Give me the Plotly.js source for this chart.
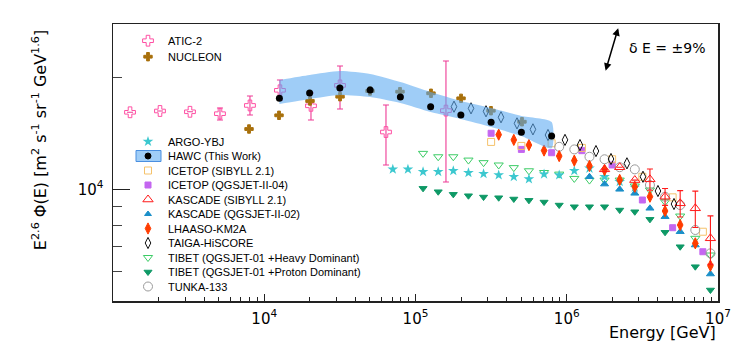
<!DOCTYPE html>
<html>
<head>
<meta charset="utf-8">
<script src="https://cdn.plot.ly/plotly-3.0.1.min.js"></script>
<style>
  html, body { margin: 0; padding: 0; background: #fff; }
  #chart { width: 756px; height: 347px; }
</style>
</head>
<body>
<div id="chart"></div>
<script>
// energies in GeV, flux values are E^2.6 * Phi(E)
const aticE = [1296, 2045, 3228, 5096, 8045, 12700, 20370, 31690, 63800, 159000];
const aticF = [16130, 16260, 16180, 15990, 16830, 18490, 16790, 19060, 14270, 16300];
const aticErrHi = [0, 0, 0, 570, 1010, 1220, 1390, 2430, 2610, 5870];
const aticErrLo = [0, 0, 0, 620, 970, 1090, 1420, 2600, 2640, 5840];

const nucleonE = [7930, 12520, 20070, 31700, 50030, 78980, 126600, 200000, 315500, 505800];
const nucleonF = [14540, 15830, 17300, 17770, 18410, 18330, 18150, 17590, 16290, 15210];

const hawcE = [12590, 19950, 31620, 50120, 79430, 125900, 199500, 316200, 501200, 794300];
const hawcF = [17590, 18180, 18750, 18520, 17730, 16700, 15860, 15160, 14240, 13920];
const hawcSysHi = [19710, 20330, 20840, 20460, 19460, 18290, 17300, 16560, 15760, 15180];
const hawcSysLo = [16980, 17520, 17960, 17730, 17080, 16150, 15470, 14720, 13920, 12900];

const argoE = [70790, 89130, 112200, 141300, 177800, 223900, 281800, 354800, 446700, 562300, 707900, 891300, 1122000, 1413000, 1778000, 2239000, 2818000];
const argoF = [11320, 11320, 11150, 11150, 11220, 11080, 11010, 10930, 10810, 10660, 10990, 10930, 11220, 11390, 10810, 10480, 10120];

const icetopE = [316200, 501200, 794300, 1259000, 1995000, 3162000, 5012000, 7943000];
const icetopSibF = [13420, 13090, 13310, 12930, 12050, 10810, 9515, 7686];
const icetopQgsF = [14160, 12810, 12550, 12710, 11630, 9358, 7880, 6788];

const kascadeE = [1413000, 1778000, 2239000, 2818000, 3548000, 4467000, 5623000, 7079000, 8913000];
const kascadeSibF = [null, 11320, 11470, 10590, 10640, 9552, 9169, 8888, 7378];
const kascadeSibErr = [0, 0, 0, 0, 700, 500, 750, 1000, 1100];
const kascadeQgsF = [10810, 10330, 10000, 9754, 8888, 8437, 7686, 7077, 5911];

const lhaasoE = [354800, 446700, 562300, 707900, 891300, 1122000, 1413000, 1778000, 2239000, 2818000, 3548000, 4467000, 5623000, 7079000, 8913000];
const lhaasoF = [14040, 13590, 13160, 12720, 12290, 11950, 11560, 11270, 10600, 10160, 9552, 8740, 8013, 7153, 6225];

const taigaE = [179700, 232800, 292500, 367600, 468800, 597700, 751500, 973600, 1223000, 1560000, 1961000, 2500000, 3191000, 4009000, 5117000];
const taigaF = [16700, 16530, 16230, 15640, 15060, 14510, 14010, 13590, 13160, 12680, 12070, 11750, 10810, 9895, 9129];

const tibetE = [112200, 141300, 177800, 223900, 281800, 354800, 446700, 562300, 707900, 891300, 1122000, 1413000, 1778000, 2239000, 2818000, 3548000, 4467000, 5623000, 7079000, 8913000];
const tibetHeavyF = [12500, 12240, 12240, 11990, 11800, 11630, 11440, 11220, 11100, 10990, 10700, 10590, 10590, 10590, 10210, 9956, 9260, 8472, 7378, 6651];
const tibetProtonF = [10060, 9852, 9694, 9610, 9532, 9492, 9416, 9340, 9240, 9070, 8975, 8975, 8975, 8793, 8700, 8300, 7659, 7003, 6186, 5353];

const tunkaE = [891300, 1122000, 1413000, 1778000, 2239000, 2818000, 3548000, 4467000, 5623000, 7079000, 8913000];
const tunkaF = [13020, 12810, 12240, 12050, 11470, 11320, 10270, 9552, 9070, 7769, 6721];

const xTickVals = [1e4, 1e5, 1e6, 1e7];
const xTickText = ["10<sup>4</sup>", "10<sup>5</sup>", "10<sup>6</sup>", "10<sup>7</sup>"];
const yTickVals = [1e4];
const yTickText = ["10<sup>4</sup>"];
const yMinorVals = [6000, 7000, 8000, 9000, 20000];

const legendTop = [
  { name: "ATIC-2", symbol: "cross-open", color: "#ff4fa3", size: 9 },
  { name: "NUCLEON", symbol: "cross", color: "#a8700c", size: 7 }
];
const legendMain = [
  { name: "ARGO-YBJ", symbol: "star", color: "#3cc8cf", size: 8 },
  { name: "HAWC (This Work)", symbol: "circle", color: "#000000", size: 6, band: true },
  { name: "ICETOP (SIBYLL 2.1)", symbol: "square-open", color: "#f5c26b", size: 7 },
  { name: "ICETOP (QGSJET-II-04)", symbol: "square", color: "#c466f0", size: 6 },
  { name: "KASCADE (SIBYLL 2.1)", symbol: "triangle-up-open", color: "#ff1a1a", size: 9 },
  { name: "KASCADE (QGSJET-II-02)", symbol: "triangle-up", color: "#1a8fc9", size: 6 },
  { name: "LHAASO-KM2A", symbol: "diamond-tall", color: "#ff3c00", size: 8 },
  { name: "TAIGA-HiSCORE", symbol: "diamond-tall-open", color: "#111111", size: 8 },
  { name: "TIBET (QGSJET-01 +Heavy Dominant)", symbol: "triangle-down-open", color: "#3ccc66", size: 8 },
  { name: "TIBET (QGSJET-01 +Proton Dominant)", symbol: "triangle-down", color: "#0e9966", size: 7 },
  { name: "TUNKA-133", symbol: "circle-open", color: "#9a9a9a", size: 9 }
];

function series(x, y, symbol, color, size, extra) {
  return Object.assign({
    x, y,
    type: "scatter",
    mode: "markers",
    marker: { symbol, color, size, line: { color, width: 1 } },
    hoverinfo: "skip",
    showlegend: false,
    cliponaxis: false
  }, extra || {});
}

const traces = [
  series(aticE, aticF, "cross-open", "#ff4fa3", 9, {
    error_y: { type: "data", array: aticErrHi, arrayminus: aticErrLo, color: "#ee3b96", thickness: 1.1, width: 3 }
  }),
  series(nucleonE, nucleonF, "cross", "#a8700c", 7),
  series(tibetE, tibetProtonF, "triangle-down", "#0e9966", 7),
  series(tibetE, tibetHeavyF, "triangle-down-open", "#3ccc66", 8),
  series(argoE, argoF, "star", "#3cc8cf", 8, { marker: { symbol: "star", color: "#3cc8cf", size: 8, line: { width: 0 } } }),
  series(kascadeE, kascadeQgsF, "triangle-up", "#1a8fc9", 7),
  series(icetopE, icetopQgsF, "square", "#c466f0", 6),
  series(icetopE, icetopSibF, "square-open", "#f5c26b", 7),
  series(tunkaE, tunkaF, "circle-open", "#9a9a9a", 9),
  series(lhaasoE, lhaasoF, "diamond-tall", "#ff3c00", 8, {
    error_y: { type: "percent", value: 3, color: "#ff3c00", thickness: 1, width: 0 }
  }),
  series(kascadeE, kascadeSibF, "triangle-up-open", "#ff1a1a", 9, {
    error_y: { type: "data", array: kascadeSibErr, color: "#ff1a1a", thickness: 1.1, width: 3 }
  }),
  series(taigaE, taigaF, "diamond-tall-open", "#111111", 8),
  {
    // HAWC systematic band
    x: hawcE.concat(hawcE.slice().reverse()),
    y: hawcSysHi.concat(hawcSysLo.slice().reverse()),
    type: "scatter",
    mode: "lines",
    fill: "toself",
    fillcolor: "rgba(90,168,242,0.58)",
    line: { width: 0, shape: "spline", smoothing: 0.6 },
    hoverinfo: "skip",
    showlegend: false
  },
  series(hawcE, hawcF, "circle", "#000000", 7, { marker: { symbol: "circle", color: "#000", size: 7, line: { width: 0 } } })
];

// legend drawn on an overlay axis measured in pixels from the plot's top-left
const annotations = [];
const shapes = [];
const legendMarkerX = 35;
const legendTextX = 53;

function addLegend(entries, top, step) {
  entries.forEach((entry, i) => {
    const y = top + i * step;
    if (entry.band) {
      shapes.push({
        type: "rect", xref: "x2", yref: "y2", layer: "below",
        x0: legendMarkerX - 12, x1: legendMarkerX + 13, y0: y - 5.5, y1: y + 5.5,
        fillcolor: "rgba(90,168,242,0.58)", line: { color: "#4a8fe0", width: 1 }
      });
    }
    traces.push({
      x: [legendMarkerX], y: [y],
      xaxis: "x2", yaxis: "y2",
      type: "scatter", mode: "markers",
      marker: {
        symbol: entry.symbol, color: entry.color, size: entry.size,
        line: { color: entry.color, width: entry.symbol === "star" ? 0 : 1 }
      },
      hoverinfo: "skip", showlegend: false
    });
    annotations.push({
      xref: "x2", yref: "y2", x: legendTextX, y,
      text: entry.name, showarrow: false,
      xanchor: "left", yanchor: "middle",
      font: { family: "Liberation Sans, Arial, sans-serif", size: 11, color: "#000" }
    });
  });
}

addLegend(legendTop, 16.7, 16);
addLegend(legendMain, 117.5, 14.5);

annotations.push(
  {
    xref: "paper", yref: "paper", x: -0.121, y: 0.58,
    text: "E<sup>2.6</sup> Φ(E) [m<sup>2</sup> s<sup>-1</sup> sr<sup>-1</sup> GeV<sup>1.6</sup>]",
    textangle: -90, showarrow: false, xanchor: "center", yanchor: "middle",
    font: { family: "DejaVu Sans, sans-serif", size: 16, color: "#000" }
  },
  {
    xref: "paper", yref: "paper", x: 1.0, y: -0.112,
    text: "Energy [GeV]", showarrow: false, xanchor: "right", yanchor: "middle",
    font: { family: "DejaVu Sans, sans-serif", size: 16, color: "#000" }
  },
  {
    xref: "paper", yref: "paper", x: 0.835, y: 0.985,
    ax: -13, ay: 44, text: "", showarrow: true,
    arrowhead: 2, startarrowhead: 2, arrowside: "end+start",
    arrowsize: 1, arrowwidth: 1.5, arrowcolor: "#000"
  },
  {
    xref: "paper", yref: "paper", x: 0.85, y: 0.913,
    text: "δ E = ±9%", showarrow: false, xanchor: "left", yanchor: "middle",
    font: { family: "DejaVu Sans, sans-serif", size: 14, color: "#000" }
  }
);

const xMinorVals = [];
[1e3, 1e4, 1e5, 1e6].forEach((decade) => {
  for (let m = 2; m <= 9; m++) xMinorVals.push(m * decade);
});

const layout = {
  width: 756,
  height: 347,
  margin: { l: 113, r: 38, t: 24, b: 46 },
  paper_bgcolor: "#fff",
  plot_bgcolor: "#fff",
  showlegend: false,
  font: { family: "DejaVu Sans, sans-serif", color: "#000" },
  xaxis: {
    type: "log",
    range: [3, 7],
    tickmode: "array",
    tickvals: xTickVals,
    ticktext: xTickText,
    ticks: "inside",
    ticklen: 7,
    tickwidth: 1,
    tickcolor: "#222",
    ticklabelstandoff: 3,
    minor: { tickmode: "array", tickvals: xMinorVals, ticks: "inside", ticklen: 4, tickcolor: "#222", showgrid: false },
    showline: true,
    mirror: true,
    linecolor: "#222",
    linewidth: 1.5,
    showgrid: false,
    zeroline: false,
    tickfont: { family: "DejaVu Sans, sans-serif", size: 15, color: "#000" }
  },
  yaxis: {
    type: "log",
    range: [Math.log10(5000), Math.log10(27900)],
    tickmode: "array",
    tickvals: yTickVals,
    ticktext: yTickText,
    ticks: "inside",
    ticklen: 17,
    tickwidth: 1,
    tickcolor: "#222",
    ticklabelstandoff: 5,
    minor: { tickmode: "array", tickvals: yMinorVals, ticks: "inside", ticklen: 9, tickcolor: "#444", showgrid: false },
    showline: true,
    mirror: true,
    linecolor: "#222",
    linewidth: 1.5,
    showgrid: false,
    zeroline: false,
    tickfont: { family: "DejaVu Sans, sans-serif", size: 15, color: "#000" }
  },
  xaxis2: { overlaying: "x", anchor: "y2", range: [0, 605], visible: false, fixedrange: true },
  yaxis2: { overlaying: "y", anchor: "x2", range: [277, 0], visible: false, fixedrange: true },
  annotations,
  shapes
};

Plotly.newPlot("chart", traces, layout, { displayModeBar: false, staticPlot: true });
</script>
</body>
</html>
